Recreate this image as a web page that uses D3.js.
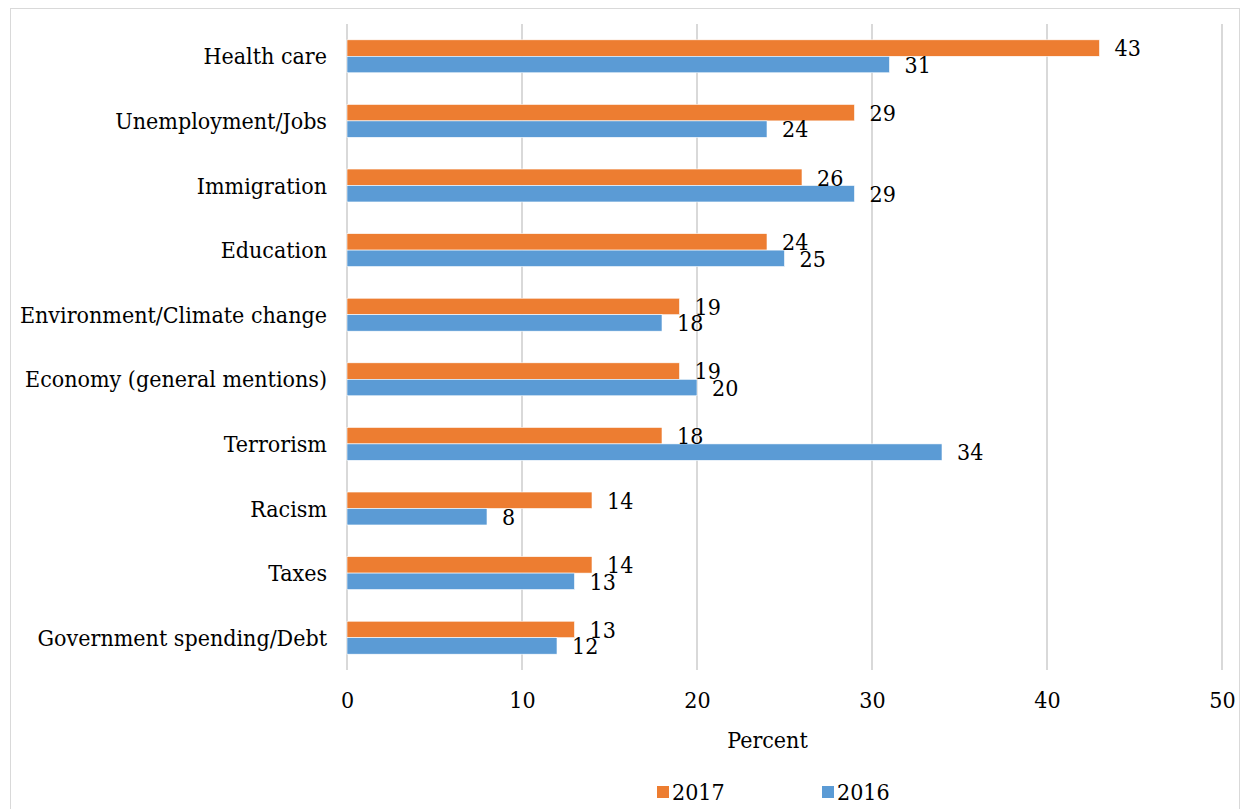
<!DOCTYPE html>
<html>
<head>
<meta charset="utf-8">
<script src="https://cdn.jsdelivr.net/npm/d3@7"></script>
<style>
  html, body { margin: 0; padding: 0; background: #fff; }
  svg { display: block; }
  text { font-family: "DejaVu Serif Condensed", "DejaVu Serif", serif; font-stretch: condensed; fill: #000; }
</style>
</head>
<body>
<svg id="chart" width="1248" height="809"></svg>
<script>
const categories = ["Health care", "Unemployment/Jobs", "Immigration", "Education",
  "Environment/Climate change", "Economy (general mentions)", "Terrorism", "Racism",
  "Taxes", "Government spending/Debt"];
const values2017 = [43, 29, 26, 24, 19, 19, 18, 14, 14, 13];
const values2016 = [31, 24, 29, 25, 18, 20, 34, 8, 13, 12];
const seriesNames = ["2017", "2016"];
const seriesColors = ["#ED7D31", "#5B9BD5"];
const xTicks = [0, 10, 20, 30, 40, 50];
const xTitle = "Percent";

(function () {
const svg = d3.select("#chart");
const FONT = '"DejaVu Serif Condensed", "DejaVu Serif", serif';
const FS = 23;

// outer frame
svg.append("rect").attr("x", 10.5).attr("y", 8.5).attr("width", 1229).attr("height", 810)
  .attr("fill", "none").attr("stroke", "#d9d9d9").attr("stroke-width", 1);

const mLeft = 347, mRight = 1222, mTop = 24, mBottom = 670;
const x = d3.scaleLinear().domain([0, 50]).range([mLeft, mRight]);
const y = d3.scaleBand().domain(categories).range([mTop, mBottom]).paddingInner(0.49).paddingOuter(0.245);
const ySub = d3.scaleBand().domain(seriesNames).range([0, y.bandwidth()]);

// gridlines
svg.append("g").selectAll("line").data(xTicks).join("line")
  .attr("x1", d => x(d)).attr("x2", d => x(d))
  .attr("y1", mTop).attr("y2", mBottom)
  .attr("stroke", "#d9d9d9").attr("stroke-width", 2);

// x axis tick labels
const xAxis = d3.axisBottom(x).tickValues(xTicks).tickSize(0).tickPadding(0);
const gx = svg.append("g").attr("transform", `translate(0,${mBottom})`).call(xAxis);
gx.select(".domain").remove();
gx.selectAll("text").attr("font-size", FS).attr("dy", 0).attr("y", 38)
  .style("font-family", FONT).attr("fill", "#000");

// y axis labels
const yAxis = d3.axisLeft(y).tickSize(0).tickPadding(20);
const gy = svg.append("g").attr("transform", `translate(${mLeft},0)`).call(yAxis);
gy.select(".domain").remove();
gy.selectAll("text").attr("font-size", FS).attr("dy", "0.35em")
  .style("font-family", FONT).attr("fill", "#000");

const data = categories.map((c, i) => ({ cat: c, vals: [values2017[i], values2016[i]] }));

const groups = svg.append("g").selectAll("g").data(data).join("g")
  .attr("transform", d => `translate(0,${y(d.cat)})`);

groups.selectAll("rect").data(d => d.vals.map((v, j) => ({ v, s: seriesNames[j], j })))
  .join("rect")
  .attr("x", x(0))
  .attr("y", d => ySub(d.s))
  .attr("width", d => x(d.v) - x(0))
  .attr("height", ySub.bandwidth())
  .attr("fill", d => seriesColors[d.j])
  .attr("stroke", "#fff").attr("stroke-width", 0.6);

groups.selectAll("text.lbl").data(d => d.vals.map((v, j) => ({ v, s: seriesNames[j], j })))
  .join("text").attr("class", "lbl")
  .attr("x", d => x(d.v) + 15)
  .attr("y", d => ySub(d.s) + ySub.bandwidth() / 2)
  .attr("dy", "0.36em")
  .attr("font-size", FS)
  .text(d => d.v);

// x title
svg.append("text").attr("x", (mLeft + mRight) / 2 - 17).attr("y", 748)
  .attr("text-anchor", "middle").attr("font-size", FS).text(xTitle);

// legend
const legendX = [657, 822];
const leg = svg.append("g").selectAll("g").data(seriesNames).join("g")
  .attr("transform", (d, i) => `translate(${legendX[i]},786)`);
leg.append("rect").attr("width", 12).attr("height", 12).attr("fill", (d, i) => seriesColors[i]);
leg.append("text").attr("x", 15).attr("y", 6).attr("dy", "0.36em").attr("font-size", FS).text(d => d);
})();
</script>
</body>
</html>
